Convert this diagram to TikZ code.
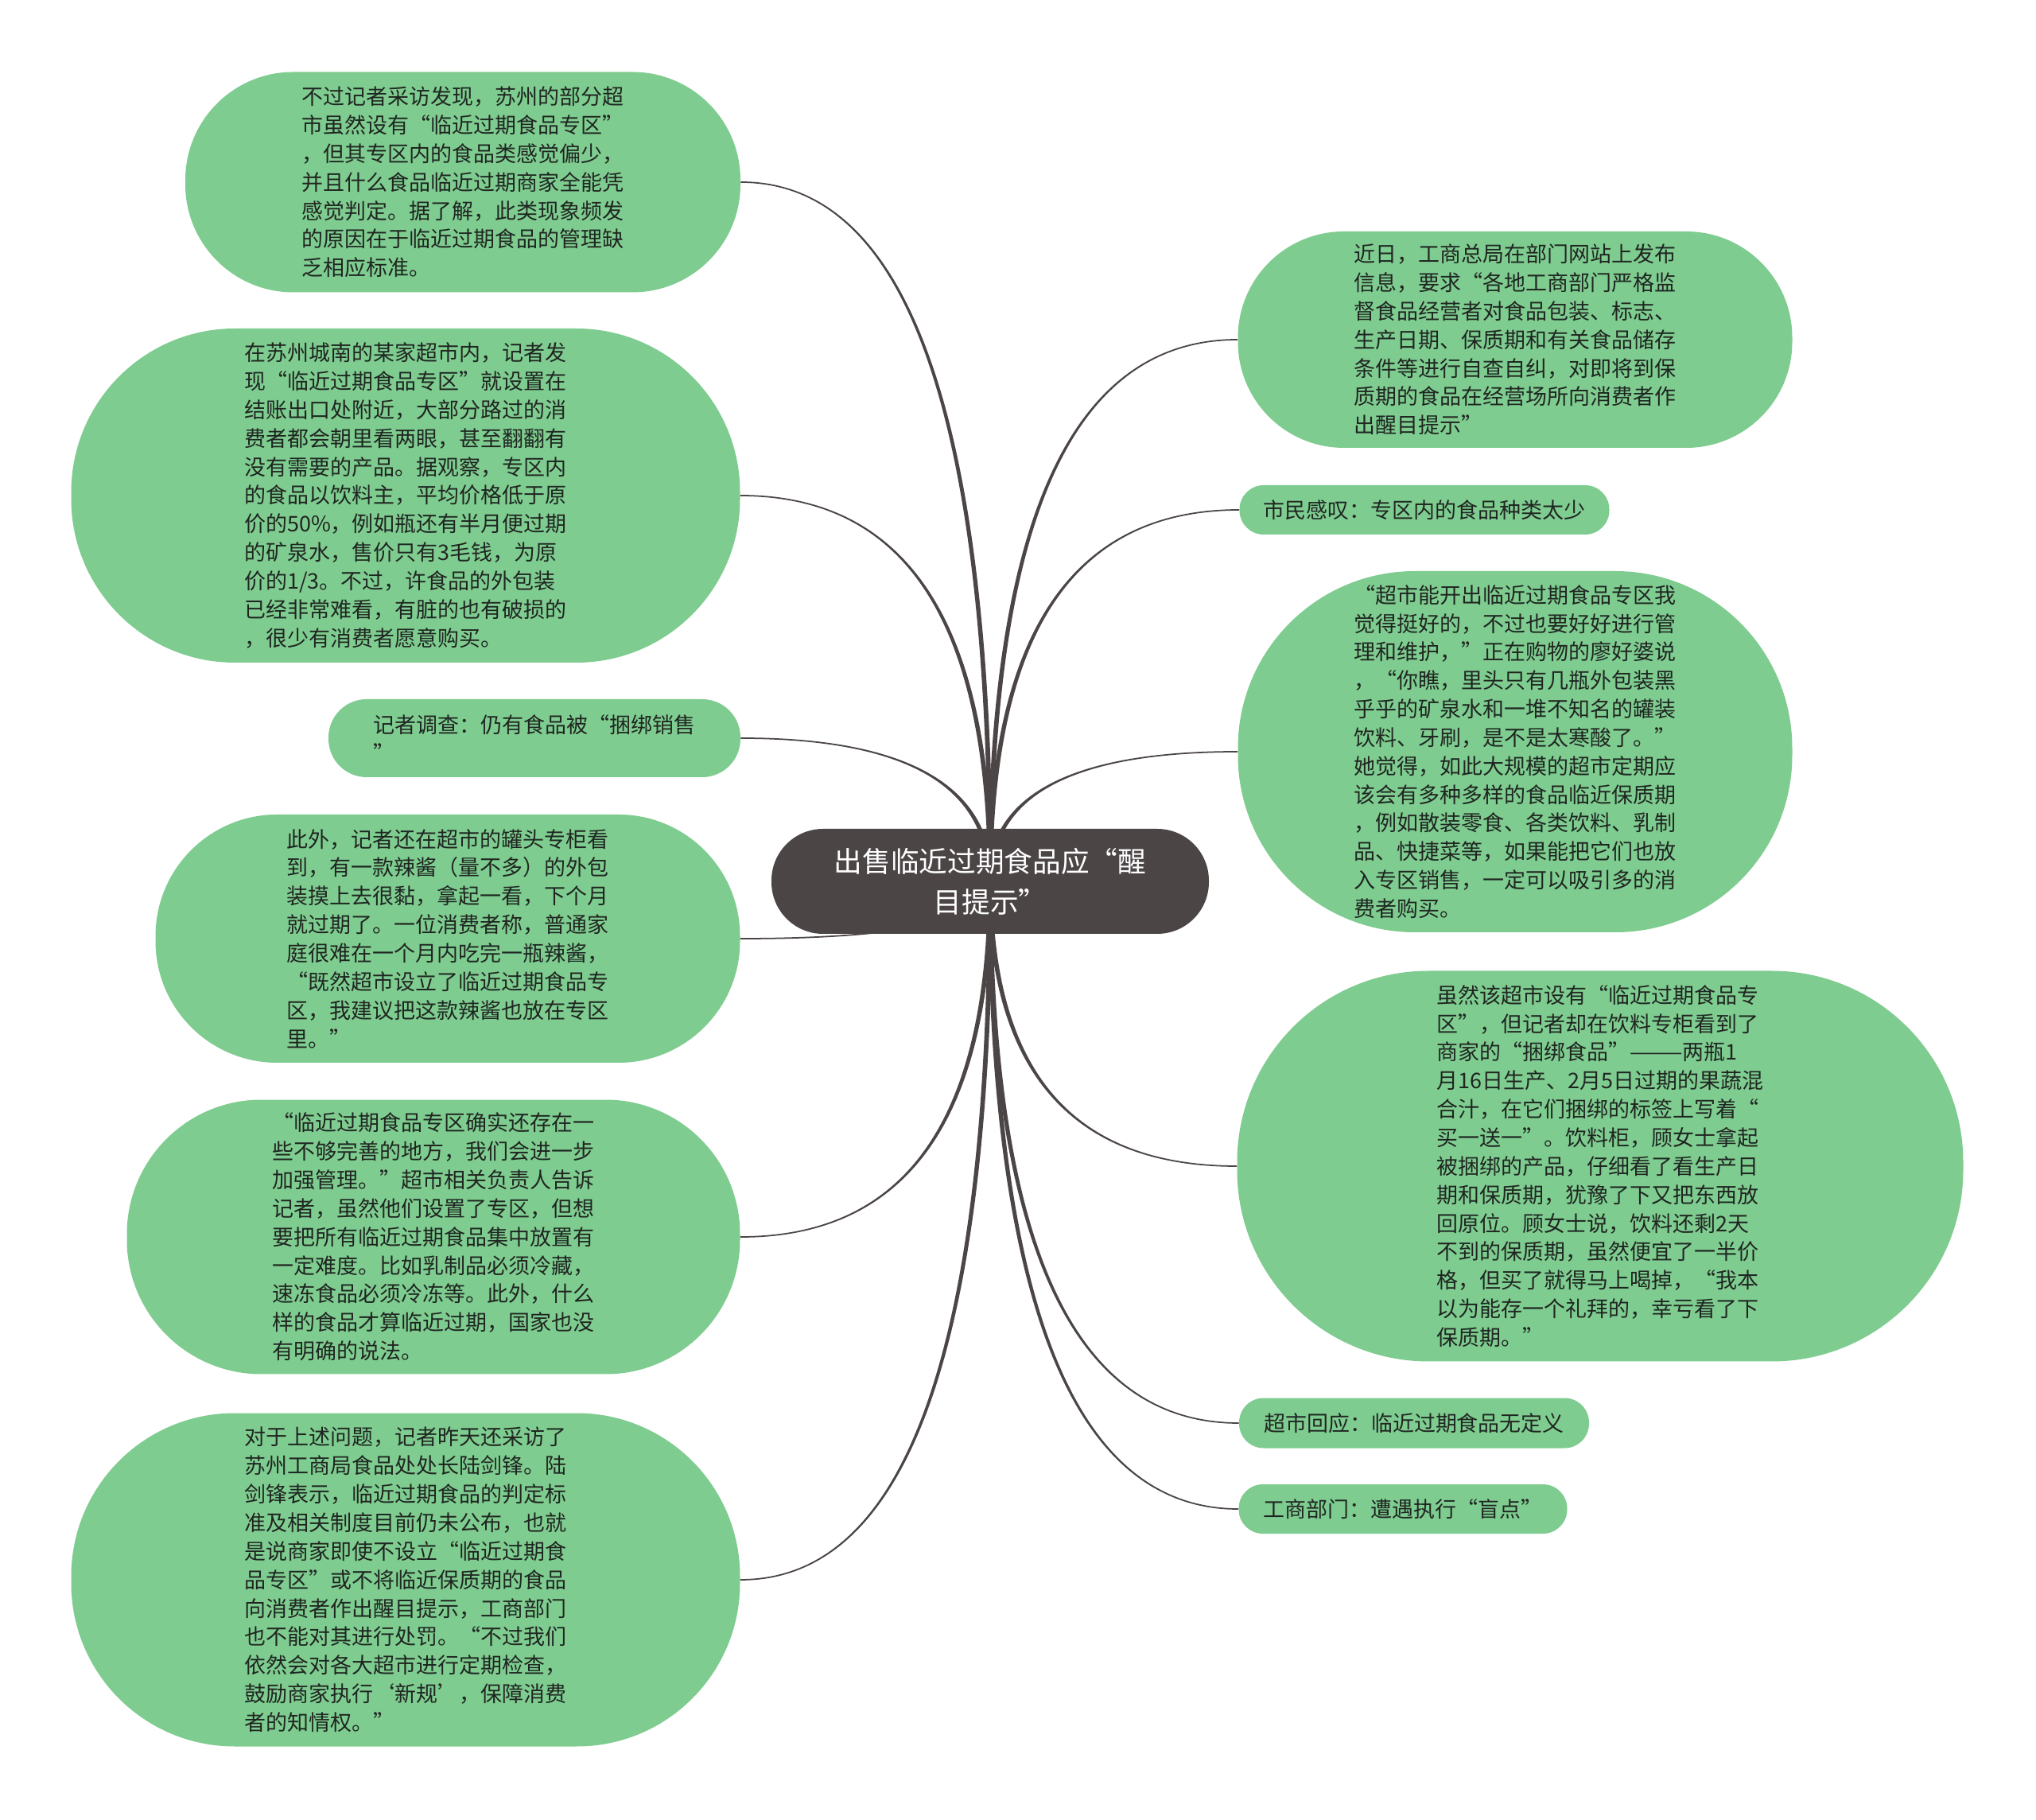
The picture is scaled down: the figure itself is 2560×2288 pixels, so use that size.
\documentclass[tikz,border=0pt]{standalone}
\usepackage{fontspec}
\setmainfont{Noto Sans CJK SC}
\usetikzlibrary{calc, backgrounds}
\definecolor{leafgreen}{HTML}{7FCC90}
\definecolor{hubgray}{HTML}{4B4546}
\definecolor{inkdark}{HTML}{1F2621}

\tikzset{
  topic/.style 2 args={fill=leafgreen, text=inkdark, align=left, inner sep=0pt,
    minimum width=#1, minimum height=#2, rounded corners={#2*0.49},
    font=\fontsize{7.68}{10.2}\selectfont},
  core/.style={fill=hubgray, text=white, align=center, inner sep=0pt,
    minimum width=55mm, minimum height=13.2mm, rounded corners=6.5mm,
    font=\fontsize{10.15}{14.5}\selectfont},
  twig/.style={fill=hubgray, draw=hubgray, line width=0.5pt, line join=round},
}

% tapered curve (quadratic bend) from the central topic to one branch
\newcommand{\branch}[2]{%
  \filldraw[twig] let \p1=(hub.center), \p2=(#1.#2) in
    (\x1-0.6pt,\y1) .. controls (\x1-0.6pt,{(\y1+2*\y2)/3}) and ({(\x2+2*\x1)/3},\y2) .. (\p2)
    .. controls ({(\x2+2*\x1)/3},\y2) and (\x1+0.6pt,{(\y1+2*\y2)/3}) .. (\x1+0.6pt,\y1) -- cycle;}

\begin{document}
\begin{tikzpicture}[x=0.1mm, y=-0.1mm]
  \useasboundingbox (0,0) rectangle (2560,2288);

  % --- central topic ---
  \node[core] (hub) at (1245,1108) {出售临近过期食品应“醒\\目提示”};

  % --- left side ---
  \node[topic={69.8mm}{27.7mm}] (lack) at (582,229) {不过记者采访发现，苏州的部分超\\
市虽然设有“临近过期食品专区”\\
，但其专区内的食品类感觉偏少，\\
并且什么食品临近过期商家全能凭\\
感觉判定。据了解，此类现象频发\\
的原因在于临近过期食品的管理缺\\
乏相应标准。};

  \node[topic={84.1mm}{42mm}] (visit) at (510,623) {在苏州城南的某家超市内，记者发\\
现“临近过期食品专区”就设置在\\
结账出口处附近，大部分路过的消\\
费者都会朝里看两眼，甚至翻翻有\\
没有需要的产品。据观察，专区内\\
的食品以饮料主，平均价格低于原\\
价的50\%，例如瓶还有半月便过期\\
的矿泉水，售价只有3毛钱，为原\\
价的1/3。不过，许食品的外包装\\
已经非常难看，有脏的也有破损的\\
，很少有消费者愿意购买。};

  \node[topic={51.8mm}{9.8mm}] (bundle) at (672,928) {记者调查：仍有食品被“捆绑销售\\
”};

  \node[topic={73.5mm}{31.2mm}] (sauce) at (563,1180) {此外，记者还在超市的罐头专柜看\\
到，有一款辣酱（量不多）的外包\\
装摸上去很黏，拿起一看，下个月\\
就过期了。一位消费者称，普通家\\
庭很难在一个月内吃完一瓶辣酱，\\
“既然超市设立了临近过期食品专\\
区，我建议把这款辣酱也放在专区\\
里。”};

  \node[topic={77.1mm}{34.5mm}] (reply) at (545,1555) {“临近过期食品专区确实还存在一\\
些不够完善的地方，我们会进一步\\
加强管理。”超市相关负责人告诉\\
记者，虽然他们设置了专区，但想\\
要把所有临近过期食品集中放置有\\
一定难度。比如乳制品必须冷藏，\\
速冻食品必须冷冻等。此外，什么\\
样的食品才算临近过期，国家也没\\
有明确的说法。};

  \node[topic={84.1mm}{41.9mm}] (bureau) at (510,1986) {对于上述问题，记者昨天还采访了\\
苏州工商局食品处处长陆剑锋。陆\\
剑锋表示，临近过期食品的判定标\\
准及相关制度目前仍未公布，也就\\
是说商家即使不设立“临近过期食\\
品专区”或不将临近保质期的食品\\
向消费者作出醒目提示，工商部门\\
也不能对其进行处罚。“不过我们\\
依然会对各大超市进行定期检查，\\
鼓励商家执行‘新规’，保障消费\\
者的知情权。”};

  % --- right side ---
  \node[topic={69.7mm}{27.2mm}] (notice) at (1905,427) {近日，工商总局在部门网站上发布\\
信息，要求“各地工商部门严格监\\
督食品经营者对食品包装、标志、\\
生产日期、保质期和有关食品储存\\
条件等进行自查自纠，对即将到保\\
质期的食品在经营场所向消费者作\\
出醒目提示”};

  \node[topic={46.5mm}{6.2mm}] (sigh) at (1791,641) {市民感叹：专区内的食品种类太少};

  \node[topic={69.7mm}{45.4mm}] (shopper) at (1905,945) {“超市能开出临近过期食品专区我\\
觉得挺好的，不过也要好好进行管\\
理和维护，”正在购物的廖好婆说\\
，“你瞧，里头只有几瓶外包装黑\\
乎乎的矿泉水和一堆不知名的罐装\\
饮料、牙刷，是不是太寒酸了。”\\
她觉得，如此大规模的超市定期应\\
该会有多种多样的食品临近保质期\\
，例如散装零食、各类饮料、乳制\\
品、快捷菜等，如果能把它们也放\\
入专区销售，一定可以吸引多的消\\
费者购买。};

  \node[topic={91.3mm}{49.1mm}] (juice) at (2012,1466) {虽然该超市设有“临近过期食品专\\
区”，但记者却在饮料专柜看到了\\
商家的“捆绑食品”———两瓶1\\
月16日生产、2月5日过期的果蔬混\\
合汁，在它们捆绑的标签上写着“\\
买一送一”。饮料柜，顾女士拿起\\
被捆绑的产品，仔细看了看生产日\\
期和保质期，犹豫了下又把东西放\\
回原位。顾女士说，饮料还剩2天\\
不到的保质期，虽然便宜了一半价\\
格，但买了就得马上喝掉，“我本\\
以为能存一个礼拜的，幸亏看了下\\
保质期。”};

  \node[topic={44mm}{6.3mm}] (nodef) at (1778,1789) {超市回应：临近过期食品无定义};
  \node[topic={41.3mm}{6.2mm}] (blind) at (1764,1897) {工商部门：遭遇执行“盲点”};

  % --- connectors, under the nodes ---
  \begin{scope}[on background layer]
    \fill[white] (0,0) rectangle (2560,2288);
    \foreach \tip in {lack, visit, bundle, sauce, reply, bureau}
      \branch{\tip}{east};
    \foreach \tip in {notice, sigh, shopper, juice, nodef, blind}
      \branch{\tip}{west};
  \end{scope}
\end{tikzpicture}
\end{document}
